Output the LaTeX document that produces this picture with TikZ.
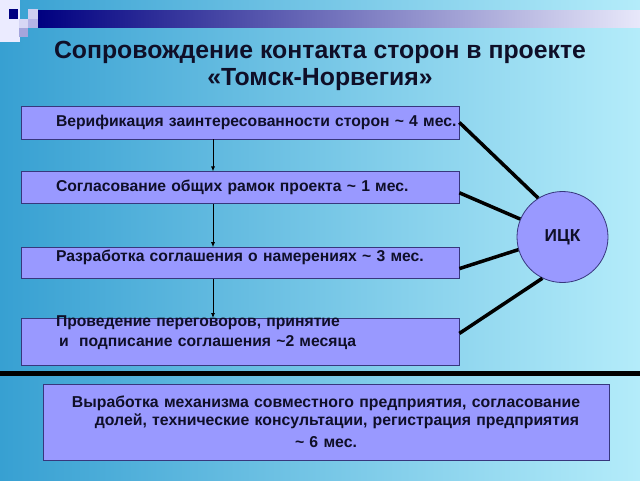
\documentclass[tikz,border=0pt]{standalone}
\usepackage{fontspec}
\setmainfont{Liberation Sans}
\usetikzlibrary{positioning,arrows.meta}

\definecolor{boxfill}{RGB}{153,153,255}
\definecolor{boxline}{RGB}{55,55,125}
\definecolor{navy}{RGB}{0,0,128}
\definecolor{inktext}{RGB}{15,15,40}
\definecolor{bgleft}{RGB}{55,160,210}
\definecolor{bgright}{RGB}{180,236,250}
\definecolor{barend}{RGB}{232,232,250}
\definecolor{sqa}{RGB}{205,205,240}
\definecolor{sqb}{RGB}{215,215,245}
\definecolor{sqc}{RGB}{180,180,230}
\definecolor{sqd}{RGB}{165,165,220}

\begin{document}
\begin{tikzpicture}[x=1pt, y=-1pt,
        panel/.style = {
            draw=boxline,
            fill=boxfill,
            line width=0.8pt,
            inner sep=0pt,
            text=inktext,
            font=\bfseries\fontsize{15.7}{20}\selectfont
        },
        box/.style = {
            panel,
            text width=438pt,
            align=left,
            execute at begin node={\leftskip=35pt\relax},
            minimum height={33pt}
        },
        link/.style = {line width=3.5pt},
        >={Latex[length=5pt,width=4pt]},
        node distance=32pt]

        % background and slide decoration
        \useasboundingbox (0,0) rectangle (640,480);
        \shade[left color=bgleft, right color=bgright] (0,0) rectangle (640,480);
        \shade[left color=navy, right color=barend] (38,10) rectangle (640,27);
        \fill[white!92!blue] (0,0) rectangle (20,42);
        \fill[navy] (9,9) rectangle (18,19);
        \fill[sqa] (28,9) rectangle (38,19);
        \fill[sqb] (19,19) rectangle (28,28);
        \fill[sqc] (28,19) rectangle (38,28);
        \fill[sqd] (19,28) rectangle (28,37);

        \node[font=\bfseries\fontsize{24.8}{27.5}\selectfont, text=inktext, align=center] (title) at (320,66)
            {Сопровождение контакта сторон в проекте\\«Томск-Норвегия»};

        \node[box] (ver) at (240,122.5) {Верификация заинтересованности сторон \textasciitilde{} 4 мес.};
        \node[box, minimum height=32pt, below=of ver] (ram) {Согласование общих рамок проекта \textasciitilde{} 1 мес.};
        \node[box, minimum height=31pt, text depth=15pt, below=43pt of ram] (raz) {Разработка соглашения о намерениях \textasciitilde{} 3 мес.};
        \node[box, minimum height=47pt, text height=8pt, text depth=38pt, below=39pt of raz] (pro)
            {Проведение переговоров, принятие\\\hspace*{3pt}и\ \ подписание соглашения \textasciitilde2 месяца};

        \node[circle, draw=boxline, fill=boxfill, line width=0.8pt, minimum size=91pt, text=inktext,
            font=\bfseries\fontsize{17.3}{20}\selectfont] (ick) at (562.5,237) {ИЦК};

        \foreach \a/\b in {ver/ram, ram/raz, raz/pro}
            \draw[->, line width=0.8pt] ([xshift=-27pt]\a.south) -- ([xshift=-27pt]\b.north);

        \draw[link] (ver.east) -- (ick.122);
        \draw[link] ([yshift=-5pt]ram.east) -- (ick.157);
        \draw[link] ([yshift=-5.5pt]raz.east) -- (ick.196);
        \draw[link] ([yshift=8.5pt]pro.east) -- (ick.244);

        \draw[line width=5pt] (0,373.5) -- (640,373.5);

        \node[panel, text width=566pt, align=center, minimum height=76pt,
            font=\bfseries\fontsize{15.8}{18}\selectfont] (vyr) at (326,422)
            {Выработка механизма совместного предприятия, согласование\\
             \hspace*{22pt}долей, технические консультации, регистрация предприятия\\[4pt]
             \textasciitilde{} 6 мес.};
    \end{tikzpicture}
\end{document}
